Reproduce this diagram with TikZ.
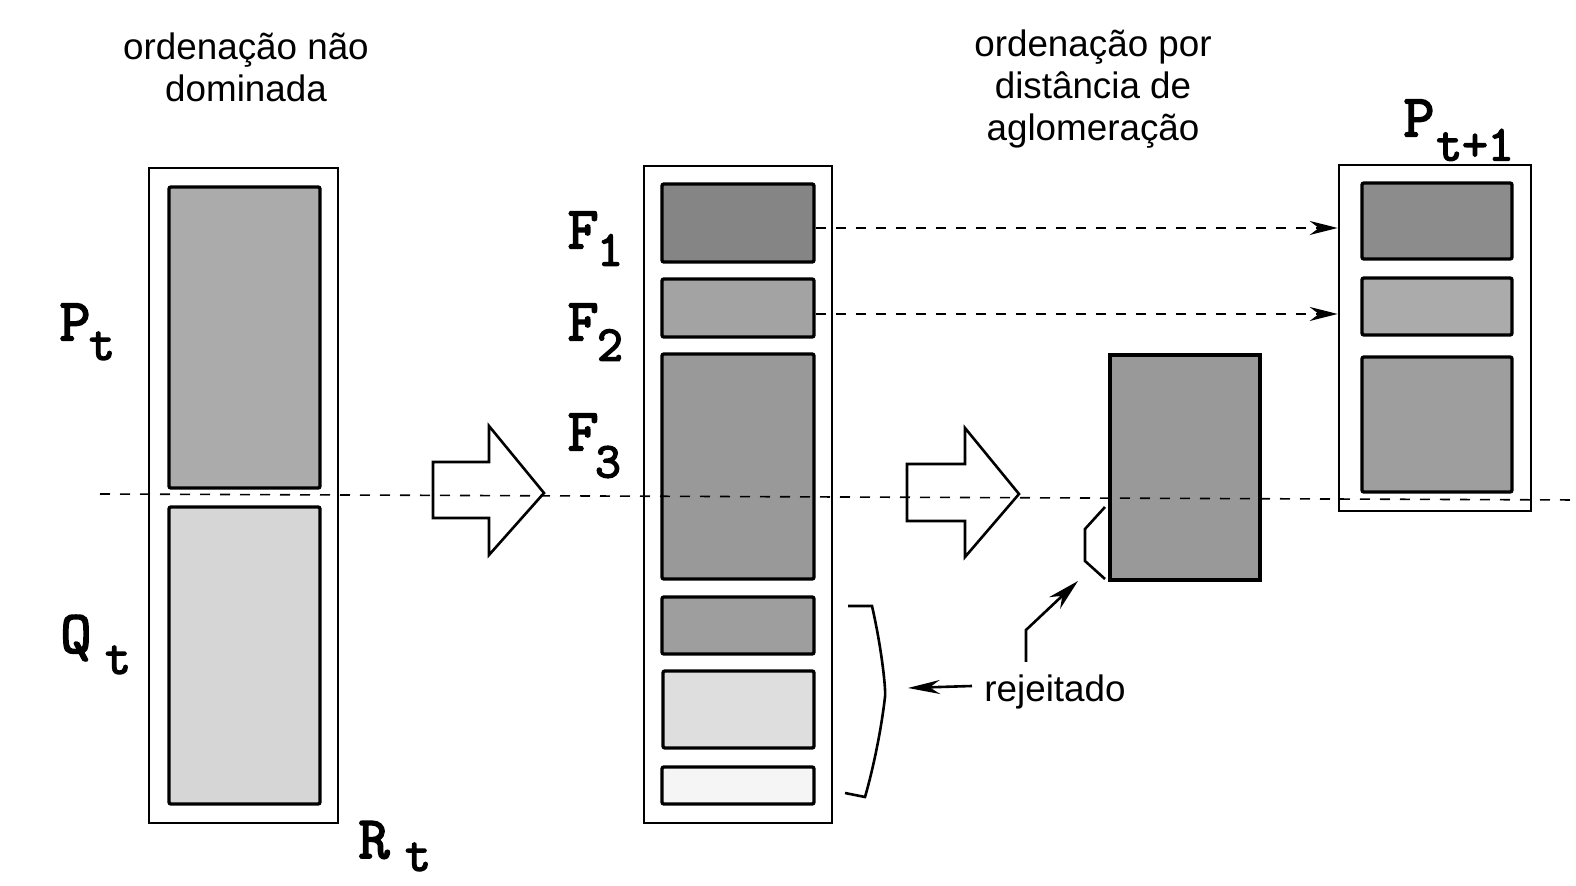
\documentclass[tikz,border=0pt]{standalone}
\usepackage{fontspec}
\setmainfont{Liberation Sans}
\newfontfamily\labfont{Latin Modern Mono}[FakeBold=3]
\usetikzlibrary{fit,arrows.meta}
\tikzset{
  outerbox/.style={draw, line width=1.3pt, inner sep=0pt, fill=white},
  innerbox/.style={draw, line width=1.7pt, inner sep=0pt, rounded corners=1pt},
  hdr/.style={font=\fontsize{18.4pt}{21pt}\selectfont, align=center, inner sep=0pt},
  biglab/.style={font=\labfont\fontsize{30pt}{30pt}\selectfont, inner sep=0pt},
  sublab/.style={font=\labfont\fontsize{25pt}{25pt}\selectfont, inner sep=0pt},
  dashline/.style={line width=0.8pt, dash pattern=on 5pt off 5pt},
  bigarrow/.style={draw, line width=1.3pt, fill=white, line join=miter},
  tip/.style={-{Stealth[length=14pt,width=7pt]}},
}
\newcommand{\boxfromto}[4]{% name, corner1, corner2, style
  \path #2 coordinate (#1-a) #3 coordinate (#1-b);
  \node[#4, fit=(#1-a)(#1-b)] (#1) {};}
\begin{document}
\begin{tikzpicture}[x=0.5pt,y=-0.5pt]
\useasboundingbox (0,0) rectangle (1576,886);
% headers
\node[hdr] (h1) at (246,67) {ordenação não\\dominada};
\node[hdr] (h2) at (1093,89) {ordenação por\\distância de\\aglomeração};
% left column
\boxfromto{Rt}{(149,168)}{(338,823)}{outerbox}
\boxfromto{Pt}{(169,187)}{(320,488)}{innerbox, fill=black!33}
\boxfromto{Qt}{(169,507)}{(320,804)}{innerbox, fill=black!16}
% middle column
\boxfromto{mid}{(644,166)}{(832,823)}{outerbox}
\boxfromto{F1}{(662,184)}{(814,262)}{innerbox, fill=black!48}
\boxfromto{F2}{(662,279)}{(814,337)}{innerbox, fill=black!36}
\boxfromto{F3}{(662,354)}{(814,579)}{innerbox, fill=black!40}
\boxfromto{F4}{(662,597)}{(814,654)}{innerbox, fill=black!38}
\boxfromto{F5}{(663,671)}{(814,748)}{innerbox, fill=black!13}
\boxfromto{F6}{(662,767)}{(814,804)}{innerbox, fill=black!4}
% sorted F3
\boxfromto{S3}{(1110,355)}{(1260,580)}{draw, line width=1.7pt, inner sep=0pt, fill=black!40}
% right column
\boxfromto{Pn}{(1339,165)}{(1531,511)}{outerbox}
\boxfromto{P1}{(1362,183)}{(1512,259)}{innerbox, fill=black!45}
\boxfromto{P2}{(1362,278)}{(1512,335)}{innerbox, fill=black!33}
\boxfromto{P3}{(1362,357)}{(1512,492)}{innerbox, fill=black!38}
% labels
\node[biglab] (lP) at (75,322) {P};
\node[sublab] (lPs) at (102,346) {t};
\node[biglab] (lQ) at (76,638) {Q};
\node[sublab] (lQs) at (118,660) {t};
\node[biglab] (lR) at (374,840) {R};
\node[sublab] (lRs) at (418,857) {t};
\node[biglab] (lF1) at (583,230) {F};
\node[sublab] (lF1s) at (610,250) {1};
\node[biglab] (lF2) at (583,322) {F};
\node[sublab] (lF2s) at (610,345) {2};
\node[biglab] (lF3) at (583,432) {F};
\node[sublab] (lF3s) at (608,462) {3};
\node[biglab] (lPn) at (1419,118) {P};
\node[sublab] (lPns) at (1475,145) {t+1};
% big arrows
\draw[bigarrow] (433,462) -- (489,462) -- (489,426) -- (544,493) -- (489,555) -- (489,518) -- (433,518) -- cycle;
\draw[bigarrow] (907,464) -- (965,464) -- (965,428) -- (1019,494) -- (965,557) -- (965,521) -- (907,521) -- cycle;
% main dashed line
\coordinate (dl) at (100,494);
\coordinate (dr) at (1576,500);
\draw[dashline] (dl) -- (dr);
% dashed arrows F1,F2 -> P_{t+1}
\draw[dashline, tip] (F1.east |- 0,228) -- (Pn.west |- 0,228);
\draw[dashline, tip] (F2.east |- 0,314) -- (Pn.west |- 0,314);
% small bracket at sorted F3
\draw[line width=1.3pt] (1105,507) -- (1085,529) -- (1085,561) -- (1105,579);
% rejected brace
\draw[line width=1.3pt] (848,606) -- (872,606) .. controls (882,650) and (886,690) .. (885,697) .. controls (880,740) and (870,780) .. (865,797) -- (845,793);
% rejeitado
\node[hdr, anchor=west] (rej) at (984,692) {rejeitado};
\coordinate (rtip) at (1078,581);
\draw[line width=1.3pt, -{Stealth[length=16pt,width=8pt]}] (1026,662) -- (1026,630) -- (rtip);
\coordinate (btip) at (908,688);
\draw[line width=1.3pt, -{Stealth[length=16pt,width=7pt]}] (rej.west |- 0,686) ++(-12,0) -- (btip);
\end{tikzpicture}
\end{document}
